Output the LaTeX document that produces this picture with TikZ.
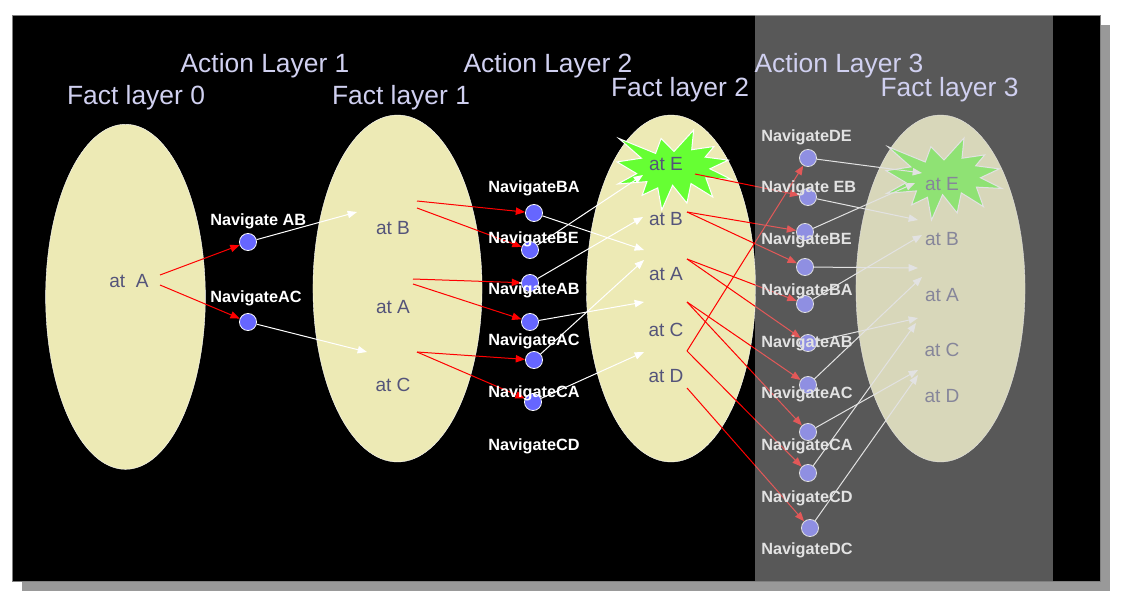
\documentclass[tikz,border=0pt]{standalone}
\usepackage{fontspec}
\setmainfont{Liberation Sans}
\usepackage{tikz}
\usetikzlibrary{arrows.meta}

\definecolor{factfill}{RGB}{237,234,181}
\definecolor{facttext}{RGB}{84,84,122}
\definecolor{actfill}{RGB}{102,102,255}
\definecolor{titletext}{RGB}{208,208,240}
\definecolor{goalgreen}{RGB}{102,255,51}
\definecolor{fadegray}{RGB}{193,193,193}
\definecolor{shadowgray}{RGB}{153,153,153}

\tikzset{
  layertitle/.style={text=titletext, font=\fontsize{19.8}{22}\selectfont, anchor=base, inner sep=0pt},
  factlabel/.style={text=facttext, font=\fontsize{14.3}{16}\selectfont, anchor=base, inner sep=0pt},
  actlabel/.style={text=white, font=\bfseries\fontsize{12.2}{14}\selectfont, anchor=base west, inner sep=0pt},
  actnode/.style={circle, fill=actfill, draw=white, line width=0.6pt, minimum size=12.8pt, inner sep=0pt},
  factset/.style={fill=factfill, draw=white, line width=0.3pt},
  goalstar/.style={fill=goalgreen, draw=white, line width=0.75pt},
  pre/.style={draw=red, line width=0.75pt, -{Triangle[length=7pt,width=5.5pt]}},
  eff/.style={draw=white, line width=0.75pt, -{Triangle[length=7pt,width=5.5pt]}},
}

% explosion: top left corner, width, height (in pt)
\newcommand{\burst}[4]{%
\begin{scope}[shift={(#1,#2)}, x=#3, y=-#4]
\filldraw[goalstar] (0.5,0.2685) -- (0.6723,0) -- (0.6553,0.2465) -- (0.8509,0.2063)
  -- (0.7732,0.3387) -- (0.9767,0.3767) -- (0.8151,0.4850) -- (1,0.6153)
  -- (0.7795,0.5992) -- (0.8400,0.8377) -- (0.6491,0.6693) -- (0.6133,0.9138)
  -- (0.4876,0.6914) -- (0.3928,1) -- (0.3572,0.7235) -- (0.2205,0.8156)
  -- (0.2624,0.6452) -- (0.0063,0.6753) -- (0.1723,0.5451) -- (0,0.3988)
  -- (0.2142,0.3526) -- (0.0171,0.1063) -- (0.3385,0.2926) -- (0.3867,0.1063) -- cycle;
\end{scope}}

\begin{document}
\begin{tikzpicture}[x=0.75pt,y=-0.75pt]
\useasboundingbox (0,0) rectangle (1121,596);

% slide
\fill[shadowgray] (22,25) rectangle (1110,591);
\filldraw[fill=black, draw=gray, line width=0.5pt] (12,15) rectangle (1100,581);

% fact layers
\path[factset] (125.5,296.8) ellipse [x radius=59.9pt, y radius=129.4pt];
\path[factset] (397.5,288.5) ellipse [x radius=63.4pt, y radius=130.1pt];
\path[factset] (671,288.5) ellipse [x radius=63.4pt, y radius=130.1pt];
\path[factset] (940.5,288.5) ellipse [x radius=63.4pt, y radius=130.1pt];

\burst{617}{130}{85.5pt}{60pt}
\burst{886}{138}{87pt}{61.5pt}

\node[factlabel] (f0A) at (129,287) {at \ A};

\node[factlabel] (f1B) at (393,234) {at B};
\node[factlabel] (f1A) at (393,313) {at A};
\node[factlabel] (f1C) at (393,391) {at C};

\node[factlabel] (f2E) at (666,170) {at E};
\node[factlabel] (f2B) at (666,225) {at B};
\node[factlabel] (f2A) at (666,280) {at A};
\node[factlabel] (f2C) at (666,336) {at C};
\node[factlabel] (f2D) at (666,382) {at D};

\node[factlabel] (f3E) at (942,190) {at E};
\node[factlabel] (f3B) at (942,245) {at B};
\node[factlabel] (f3A) at (942,301) {at A};
\node[factlabel] (f3C) at (942,356) {at C};
\node[factlabel] (f3D) at (942,402) {at D};

% actions
\node[actnode] (a1AB) at (248,242) {};
\node[actnode] (a1AC) at (248,322) {};

\node[actnode] (a2BA) at (534,213) {};
\node[actnode] (a2BE) at (530,250) {};
\node[actnode] (a2AB) at (530,283) {};
\node[actnode] (a2AC) at (530,322) {};
\node[actnode] (a2CA) at (534,360) {};
\node[actnode] (a2CD) at (533,402) {};

\node[actnode] (a3DE) at (808,158) {};
\node[actnode] (a3EB) at (808,197) {};
\node[actnode] (a3BE) at (805,232) {};
\node[actnode] (a3BB) at (805,267) {};
\node[actnode] (a3BA) at (805,304) {};
\node[actnode] (a3AB) at (808,343) {};
\node[actnode] (a3AC) at (808,385) {};
\node[actnode] (a3CA) at (808,432) {};
\node[actnode] (a3CD) at (808,473) {};
\node[actnode] (a3DC) at (810,528) {};

% arrow ends inside the fact layers
\coordinate (p0a) at (160,275);
\coordinate (p0b) at (160,285);
\coordinate (e1B) at (357,212);
\coordinate (e1C) at (367,352);

\coordinate (p1Ba) at (417,201);
\coordinate (p1Bb) at (417,208);
\coordinate (p1Aa) at (413,279);
\coordinate (p1Ab) at (413,284);
\coordinate (p1C) at (417,352);

\coordinate (e2a) at (644,250);
\coordinate (e2b) at (643,175);
\coordinate (e2c) at (643,217);
\coordinate (e2d) at (644,302);
\coordinate (e2e) at (644,260);
\coordinate (e2f) at (644,352);

\coordinate (p2E) at (695,174);
\coordinate (p2B) at (687,212);
\coordinate (p2A) at (687,259);
\coordinate (p2C) at (687,302);
\coordinate (p2X) at (687,351);
\coordinate (p2D) at (687,388);

\coordinate (e3a) at (922,173);
\coordinate (e3b) at (918,220);
\coordinate (e3c) at (915,183);
\coordinate (e3d) at (918,268);
\coordinate (e3e) at (922,235);
\coordinate (e3f) at (918,318);
\coordinate (e3g) at (922,277);
\coordinate (e3h) at (918,370);
\coordinate (e3i) at (916,323);
\coordinate (e3j) at (918,375);

\draw[pre] (p0a) -- (a1AB);
\draw[pre] (p0b) -- (a1AC);
\draw[eff] (a1AB) -- (e1B);
\draw[eff] (a1AC) -- (e1C);

\draw[pre] (p1Ba) -- (a2BA);
\draw[pre] (p1Bb) -- (a2BE);
\draw[pre] (p1Aa) -- (a2AB);
\draw[pre] (p1Ab) -- (a2AC);
\draw[pre] (p1C) -- (a2CA);
\draw[pre] (p1C) -- (a2CD);

\draw[eff] (a2BA) -- (e2a);
\draw[eff] (a2BE) -- (e2b);
\draw[eff] (a2AB) -- (e2c);
\draw[eff] (a2AC) -- (e2d);
\draw[eff] (a2CA) -- (e2e);
\draw[eff] (a2CD) -- (e2f);

\draw[pre] (p2E) -- (a3EB);
\draw[pre] (p2B) -- (a3BE);
\draw[pre] (p2B) -- (a3BB);
\draw[pre] (p2A) -- (a3BA);
\draw[pre] (p2A) -- (a3AB);
\draw[pre] (p2C) -- (a3AC);
\draw[pre] (p2C) -- (a3CA);
\draw[pre] (p2X) -- (a3DE);
\draw[pre] (p2X) -- (a3CD);
\draw[pre] (p2D) -- (a3DC);

\draw[eff] (a3DE) -- (e3a);
\draw[eff] (a3EB) -- (e3b);
\draw[eff] (a3BE) -- (e3c);
\draw[eff] (a3BB) -- (e3d);
\draw[eff] (a3BA) -- (e3e);
\draw[eff] (a3AB) -- (e3f);
\draw[eff] (a3AC) -- (e3g);
\draw[eff] (a3CA) -- (e3h);
\draw[eff] (a3CD) -- (e3i);
\draw[eff] (a3DC) -- (e3j);

\node[actlabel] (l1AB) at (210,225) {Navigate AB};
\node[actlabel] (l1AC) at (210,302) {NavigateAC};

\node[actlabel] (l2BA) at (488,192) {NavigateBA};
\node[actlabel] (l2BE) at (488,243) {NavigateBE};
\node[actlabel] (l2AB) at (488,294) {NavigateAB};
\node[actlabel] (l2AC) at (488,345) {NavigateAC};
\node[actlabel] (l2CA) at (488,397) {NavigateCA};
\node[actlabel] (l2CD) at (488,450) {NavigateCD};

\node[actlabel] (l3DE) at (761,141) {NavigateDE};
\node[actlabel] (l3EB) at (761,192) {Navigate EB};
\node[actlabel] (l3BE) at (761,244) {NavigateBE};
\node[actlabel] (l3BA) at (761,295) {NavigateBA};
\node[actlabel] (l3AB) at (761,347) {NavigateAB};
\node[actlabel] (l3AC) at (761,398) {NavigateAC};
\node[actlabel] (l3CA) at (761,450) {NavigateCA};
\node[actlabel] (l3CD) at (761,502) {NavigateCD};
\node[actlabel] (l3DC) at (761,554) {NavigateDC};

% faded third layer
\fill[fadegray, fill opacity=0.46] (755,15) rectangle (1053,581);

\node[layertitle] (tAct1) at (265,72) {Action Layer 1};
\node[layertitle] (tAct2) at (548,72) {Action Layer 2};
\node[layertitle] (tAct3) at (839,72) {Action Layer 3};
\node[layertitle] (tFact0) at (136,104) {Fact layer 0};
\node[layertitle] (tFact1) at (401,104) {Fact layer 1};
\node[layertitle] (tFact2) at (680,96) {Fact layer 2};
\node[layertitle] (tFact3) at (949.5,96) {Fact layer 3};

\end{tikzpicture}
\end{document}
